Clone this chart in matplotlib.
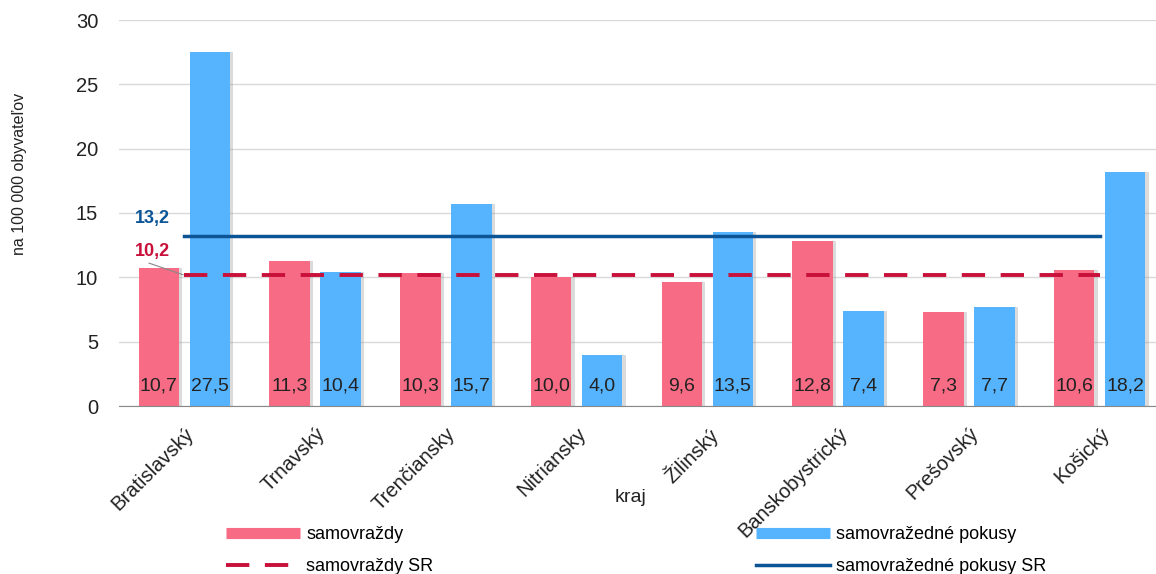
import numpy as np
from matplotlib import pyplot as plt
from matplotlib.lines import Line2D

plt.rcParams['font.family'] = ['Liberation Sans', 'DejaVu Sans']

kraje = ["Bratislavský", "Trnavský", "Trenčiansky", "Nitriansky",
         "Žilinský", "Banskobystrický", "Prešovský", "Košický"]
samovrazdy = [10.7, 11.3, 10.3, 10.0, 9.6, 12.8, 7.3, 10.6]
pokusy = [27.5, 10.4, 15.7, 4.0, 13.5, 7.4, 7.7, 18.2]
samovrazdy_sr = 10.2
pokusy_sr = 13.2

red = "#F76B84"
blue = "#56B4FF"
red_line = "#C8103A"
blue_line = "#0B5597"

fig = plt.figure(figsize=(11.56, 5.74), dpi=100)
ax = fig.add_axes([119/1156, 168/574, 1046/1156, 386/574])

x = np.arange(len(kraje))
w = 0.31
off = 0.195

# soft shadows behind bars
ax.bar(x - off + 0.025, samovrazdy, w, color="#999999", alpha=0.35, zorder=1)
ax.bar(x + off + 0.025, pokusy, w, color="#999999", alpha=0.35, zorder=1)
ax.bar(x - off, samovrazdy, w, color=red, zorder=2)
ax.bar(x + off, pokusy, w, color=blue, zorder=2)

for i in range(len(kraje)):
    ax.text(x[i] - off, 1.55, f"{samovrazdy[i]:.1f}".replace(".", ","),
            ha="center", va="center", fontsize=14, color="#222222", zorder=4)
    ax.text(x[i] + off, 1.55, f"{pokusy[i]:.1f}".replace(".", ","),
            ha="center", va="center", fontsize=14, color="#222222", zorder=4)

ax.plot([x[0], x[-1]], [pokusy_sr, pokusy_sr], color=blue_line, lw=2.5, zorder=3)
ax.plot([x[0], x[-1]], [samovrazdy_sr, samovrazdy_sr], color=red_line, lw=2.8,
        dashes=(6, 4), zorder=3)

ax.text(-0.38, 14.6, "13,2", color=blue_line, fontsize=13, fontweight="bold",
        ha="left", va="center")
ax.text(-0.38, 11.97, "10,2", color=red_line, fontsize=13, fontweight="bold",
        ha="left", va="center")
ax.plot([-0.27, -0.01], [11.1, 10.2], color="#888888", lw=0.8, zorder=3)

ax.set_xlim(-0.5, len(kraje) - 0.5)
ax.set_ylim(0, 30)
ax.set_yticks(range(0, 31, 5))
ax.set_xticks(x)
ax.set_xticklabels(kraje, rotation=45, ha="right", rotation_mode="anchor")
ax.tick_params(axis="both", length=0, labelsize=14.5, colors="#222222")
ax.tick_params(axis="y", pad=15)
ax.tick_params(axis="x", pad=13)
ax.grid(axis="y", color="#d9d9d9", lw=1, zorder=0)
ax.set_axisbelow(True)
for s in ["top", "right", "left"]:
    ax.spines[s].set_visible(False)
ax.spines["bottom"].set_color("#888888")

ax.set_ylabel("na 100 000 obyvateľov", fontsize=11.5, color="#222222")
ax.yaxis.set_label_coords(-0.088, 0.6)
fig.text(631/1156, 1 - 498/574, "kraj", ha="center", va="center", fontsize=14,
         color="#222222")

h1 = [Line2D([], [], color=red, lw=8, solid_capstyle="butt"),
      Line2D([], [], color=red_line, lw=2.8, dashes=(6, 4))]
h2 = [Line2D([], [], color=blue, lw=8, solid_capstyle="butt"),
      Line2D([], [], color=blue_line, lw=2.5)]
leg1 = fig.legend(h1, ["samovraždy", "samovraždy SR"], loc="upper left",
                  bbox_to_anchor=(226/1156, 1 - 526/574), frameon=False,
                  fontsize=13, handlelength=4.1, handletextpad=0.35,
                  labelspacing=0.85, borderpad=0, borderaxespad=0)
leg2 = fig.legend(h2, ["samovražedné pokusy", "samovražedné pokusy SR"],
                  loc="upper left", bbox_to_anchor=(756/1156, 1 - 526/574),
                  frameon=False, fontsize=13, handlelength=4.1,
                  handletextpad=0.35, labelspacing=0.85, borderpad=0,
                  borderaxespad=0)

plt.savefig("out.png", dpi=100)
